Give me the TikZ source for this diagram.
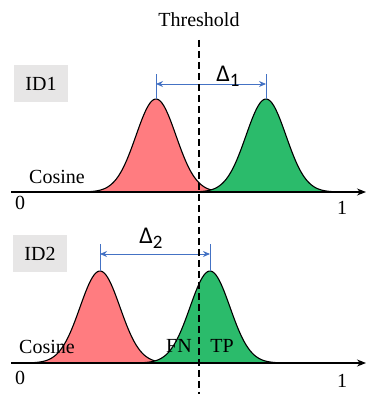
\documentclass[tikz,border=0pt]{standalone}
\usepackage{fontspec}
\setmainfont{Liberation Serif}
\newfontfamily\deltafont{Carlito}
\usepackage{xcolor}
\usepackage{tikz}
\usetikzlibrary{arrows.meta,calc}
\definecolor{negred}{HTML}{FF7C80}
\definecolor{posgreen}{HTML}{2BBB6B}
\definecolor{gapblue}{HTML}{4472C4}
\definecolor{taggray}{HTML}{E7E6E6}
\tikzset{
  lbl/.style={font=\fontsize{20}{24}\selectfont, inner sep=0pt},
  tagbox/.style={fill=taggray, minimum width=54, minimum height=37, lbl},
  axis/.style={line width=1.1pt, -{Stealth[length=9pt,width=7pt]}},
  bell/.style={line width=1.1pt, draw=black},
  gap/.style={gapblue, line width=0.9pt, {Stealth[length=7pt,width=6pt]}-{Stealth[length=7pt,width=6pt]}},
  gaptick/.style={gapblue, line width=0.9pt}
}
\newcommand{\gapsym}[1]{{\deltafont\fontsize{24}{26}\selectfont Δ\lower5pt\hbox{\fontsize{19}{19}\selectfont #1}}}

\begin{document}
\begin{tikzpicture}[x=1pt,y=1pt]
  \useasboundingbox (0,0) rectangle (374,407);

  % ID1
  \begin{scope}[yshift=215]
    \coordinate (o1) at (11,0);
    \coordinate (e1) at (366,0);
    \filldraw[bell,fill=negred,domain=90:222,samples=80,smooth] plot (\x,{93*exp(-((\x-156)/20)^2/2)}) -- cycle;
    \filldraw[bell,fill=posgreen,domain=200:332,samples=80,smooth] plot (\x,{93*exp(-((\x-266)/20)^2/2)}) -- cycle;
    \draw[axis] (o1) -- (e1);
    \coordinate (r1) at (156,93);
    \coordinate (g1) at (266,93);
    \draw[gaptick] (r1) -- ++(0,25) coordinate (rt1);
    \draw[gaptick] (g1) -- ++(0,25) coordinate (gt1);
    \draw[gap] ($(r1)+(0,15)$) -- ($(g1)+(0,15)$);
    \node[lbl] (d1) at (228,116) {\gapsym{1}};
    \node[tagbox] (id1) at (41,108) {ID1};
    \node[lbl] (cos1) at (57,15) {Cosine};
    \node[lbl] (z1) at (20,-11) {0};
    \node[lbl] (u1) at (342,-16) {1};
  \end{scope}

  % ID2
  \begin{scope}[yshift=44]
    \coordinate (o2) at (11,0);
    \coordinate (e2) at (366,0);
    \filldraw[bell,fill=negred,domain=34:166,samples=80,smooth] plot (\x,{92*exp(-((\x-100)/20)^2/2)}) -- cycle;
    \filldraw[bell,fill=posgreen,domain=144:276,samples=80,smooth] plot (\x,{92*exp(-((\x-210)/20)^2/2)}) -- cycle;
    \draw[axis] (o2) -- (e2);
    \coordinate (r2) at (100,92);
    \coordinate (g2) at (210,92);
    \draw[gaptick] (r2) -- ++(0,27) coordinate (rt2);
    \draw[gaptick] (g2) -- ++(0,27) coordinate (gt2);
    \draw[gap] ($(r2)+(0,17)$) -- ($(g2)+(0,17)$);
    \node[lbl] (d2) at (151,125) {\gapsym{2}};
    \node[tagbox] (id2) at (40,109) {ID2};
    \node[lbl] (cos2) at (47,16) {Cosine};
    \node[lbl] (fn) at (179,17) {FN};
    \node[lbl] (tp) at (222,17) {TP};
    \node[lbl] (z2) at (20,-15) {0};
    \node[lbl] (u2) at (342,-18) {1};
  \end{scope}

  % threshold
  \node[lbl] (thr) at (199,387) {Threshold};
  \coordinate (ttop) at (199,367);
  \coordinate (tbot) at (199,13);
  \draw[line width=1.6pt, dash pattern=on 7pt off 4pt] (ttop) -- (tbot);
\end{tikzpicture}
\end{document}
